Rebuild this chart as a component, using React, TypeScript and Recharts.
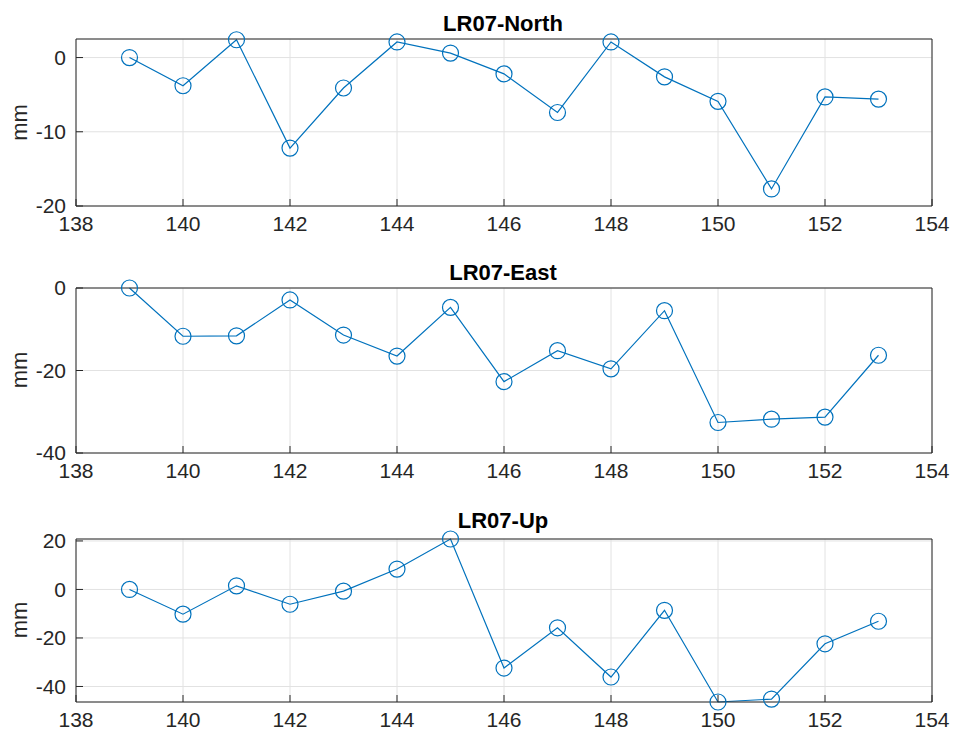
import React from "react";
import { LineChart, Line, XAxis, YAxis, CartesianGrid } from "recharts";

const days = [139, 140, 141, 142, 143, 144, 145, 146, 147, 148, 149, 150, 151, 152, 153];
const north = [0, -3.8, 2.4, -12.2, -4.1, 2.1, 0.6, -2.2, -7.4, 2.1, -2.6, -5.9, -17.7, -5.3, -5.6];
const east = [0, -11.7, -11.6, -2.9, -11.4, -16.5, -4.7, -22.7, -15.2, -19.6, -5.5, -32.6, -31.8, -31.3, -16.3];
const up = [0, -10.2, 1.5, -6.1, -0.7, 8.4, 20.8, -32.4, -15.8, -36.1, -8.6, -46.4, -45.2, -22.4, -13.1];

const xTicks = [138, 140, 142, 144, 146, 148, 150, 152, 154];
const northTicks = [-20, -10, 0];
const eastTicks = [-40, -20, 0];
const upTicks = [-40, -20, 0, 20];

const FONT = "'Liberation Sans', Arial, Helvetica, sans-serif";
const AXIS = "#262626";
const BLUE = "#0072BD";

const Ring = (props: any) => {
  const { cx, cy } = props;
  if (cx == null || cy == null) return null;
  return <circle cx={cx} cy={cy} r={8} fill="none" stroke={BLUE} strokeWidth={1.2} />;
};

type PanelProps = {
  top: number;
  height: number;
  mTop: number;
  mBottom: number;
  values: number[];
  domain: [number, number];
  yTicks: number[];
};

function Panel({ top, height, mTop, mBottom, values, domain, yTicks }: PanelProps) {
  const rows = days.map((d, i) => ({ day: d, v: values[i] }));
  const tickStyle = { fill: AXIS, fontSize: 21, fontFamily: FONT };
  return (
    <div style={{ position: "absolute", left: 0, top }}>
      <LineChart width={955} height={height} data={rows} margin={{ top: mTop - 1, right: 22, left: 16, bottom: mBottom }}>
        <CartesianGrid stroke="#e2e2e2" />
        <XAxis
          dataKey="day"
          type="number"
          domain={[138, 154]}
          ticks={xTicks}
          interval={0}
          height={30}
          tickSize={-7}
          tickMargin={17}
          axisLine={{ stroke: AXIS }}
          tickLine={{ stroke: AXIS }}
          tick={tickStyle}
        />
        <XAxis
          xAxisId="top"
          orientation="top"
          dataKey="day"
          type="number"
          domain={[138, 154]}
          ticks={xTicks}
          interval={0}
          height={1}
          tickSize={-7}
          axisLine={{ stroke: AXIS }}
          tickLine={{ stroke: AXIS }}
          tick={false}
        />
        <YAxis
          type="number"
          domain={domain}
          ticks={yTicks}
          interval={0}
          width={60}
          tickSize={-7}
          tickMargin={17}
          axisLine={{ stroke: AXIS }}
          tickLine={{ stroke: AXIS }}
          tick={tickStyle}
        />
        <YAxis
          yAxisId="right"
          orientation="right"
          type="number"
          domain={domain}
          ticks={yTicks}
          interval={0}
          width={1}
          tickSize={-7}
          axisLine={{ stroke: AXIS }}
          tickLine={{ stroke: AXIS }}
          tick={false}
        />
        <Line
          type="linear"
          dataKey="v"
          stroke={BLUE}
          strokeWidth={1.2}
          dot={<Ring />}
          activeDot={false}
          isAnimationActive={false}
        />
      </LineChart>
    </div>
  );
}

export default function App() {
  const titles = [
    { text: "LR07-North", y: 31 },
    { text: "LR07-East", y: 280 },
    { text: "LR07-Up", y: 528 },
  ];
  const labels = [122.5, 370, 620];
  return (
    <div style={{ position: "absolute", left: 0, top: 0, width: 955, height: 736, background: "#fff" }}>
      <Panel top={0} height={250} mTop={39} mBottom={14} values={north} domain={[-20, 2.5]} yTicks={northTicks} />
      <Panel top={250} height={250} mTop={38} mBottom={17} values={east} domain={[-40, 0]} yTicks={eastTicks} />
      <Panel top={500} height={236} mTop={39} mBottom={4} values={up} domain={[-46.4, 20.8]} yTicks={upTicks} />
      <svg width={955} height={736} style={{ position: "absolute", left: 0, top: 0, pointerEvents: "none" }}>
        {titles.map((t) => (
          <text key={t.text} x={503} y={t.y} textAnchor="middle" fontFamily={FONT} fontWeight="bold" fontSize={22} fill="#000">
            {t.text}
          </text>
        ))}
        {labels.map((cy, i) => (
          <text key={i} transform={`translate(27,${cy}) rotate(-90)`} textAnchor="middle" fontFamily={FONT} fontSize={22} fill={AXIS}>
            mm
          </text>
        ))}
      </svg>
    </div>
  );
}
